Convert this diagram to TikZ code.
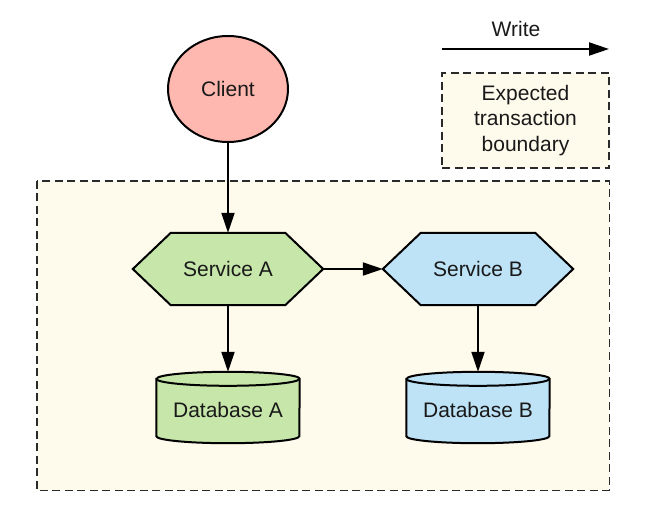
\documentclass[tikz,border=0pt]{standalone}
\usepackage{fontspec}
\setmainfont{Liberation Sans}
\usetikzlibrary{arrows.meta,calc,shapes.geometric,backgrounds}
\definecolor{clientfill}{HTML}{FFB8B0}
\definecolor{greenfill}{HTML}{C7E6AA}
\definecolor{bluefill}{HTML}{BEE2F6}
\definecolor{txfill}{HTML}{FEFAEC}
\definecolor{dashgray}{HTML}{2A2A2A}
\begin{document}
\begin{tikzpicture}[x=1pt,y=-1pt,
  every node/.style={font=\fontsize{21}{25.5}\selectfont, inner sep=0pt, text=black!90},
  shapeline/.style={draw=black, line width=2pt, line join=miter},
  flow/.style={draw=black, line width=2pt, -{Triangle[length=20pt,width=13pt]}},
  boundary/.style={draw=dashgray, line width=1.4pt, dash pattern=on 8pt off 4.5pt, fill=txfill},
  svc/.style={minimum width=190pt, minimum height=72pt},
  db/.style={minimum width=143pt, minimum height=71pt}]
\useasboundingbox (0,0) rectangle (653,509);

% area of the transaction boundary (drawn on the background layer)
\node[minimum width=572pt, minimum height=309pt] (txbox) at (323,335.5) {};

% client
\node[shapeline, ellipse, fill=clientfill, minimum width=120pt, minimum height=106pt] (client) at (228,89) {Client};

% services
\node[svc] (sa) at (228,269) {Service A};
\node[svc] (sb) at (478,269) {Service B};

% databases
\node[db] (dba) at (228,407.5) {};
\node[db] (dbb) at (478,407.5) {};
\node at ($(dba)+(0,2)$) (dbatext) {Database A};
\node at ($(dbb)+(0,2)$) (dbbtext) {Database B};

\begin{scope}[on background layer]
  \draw[boundary] (txbox.north west) rectangle (txbox.south east);
  \foreach \s/\c in {sa/greenfill, sb/bluefill}{
    \draw[shapeline, fill=\c] (\s.west) -- ($(\s.north west)+(38,0)$) -- ($(\s.north east)+(-38,0)$)
      -- (\s.east) -- ($(\s.south east)+(-38,0)$) -- ($(\s.south west)+(38,0)$) -- cycle;
  }
  \foreach \d/\c in {dba/greenfill, dbb/bluefill}{
    \draw[shapeline, fill=\c] ($(\d.north west)+(0,7)$) -- ($(\d.south west)+(0,-7)$)
      arc[start angle=180, end angle=360, x radius=71.5pt, y radius=7pt]
      -- ($(\d.north east)+(0,7)$)
      arc[start angle=0, end angle=180, x radius=71.5pt, y radius=7pt] -- cycle;
    \draw[shapeline] ($(\d.north west)+(0,7)$)
      arc[start angle=180, end angle=360, x radius=71.5pt, y radius=7pt];
  }
\end{scope}

% writes
\draw[flow] (client) -- (sa);
\draw[flow] (sa.east) -- (sb.west);
\draw[flow] (sa.south) -- (dba.north);
\draw[flow] (sb.south) -- (dbb.north);

% legend
\node (wlabel) at (516,29) {Write};
\coordinate (wstart) at (442,49);
\coordinate (wend) at (609,49);
\draw[flow] (wstart) -- (wend);
\node[boundary, minimum width=167pt, minimum height=95pt, align=center] (legend) at (525.5,120.5)
  {Expected\\transaction\\boundary};
\end{tikzpicture}
\end{document}
